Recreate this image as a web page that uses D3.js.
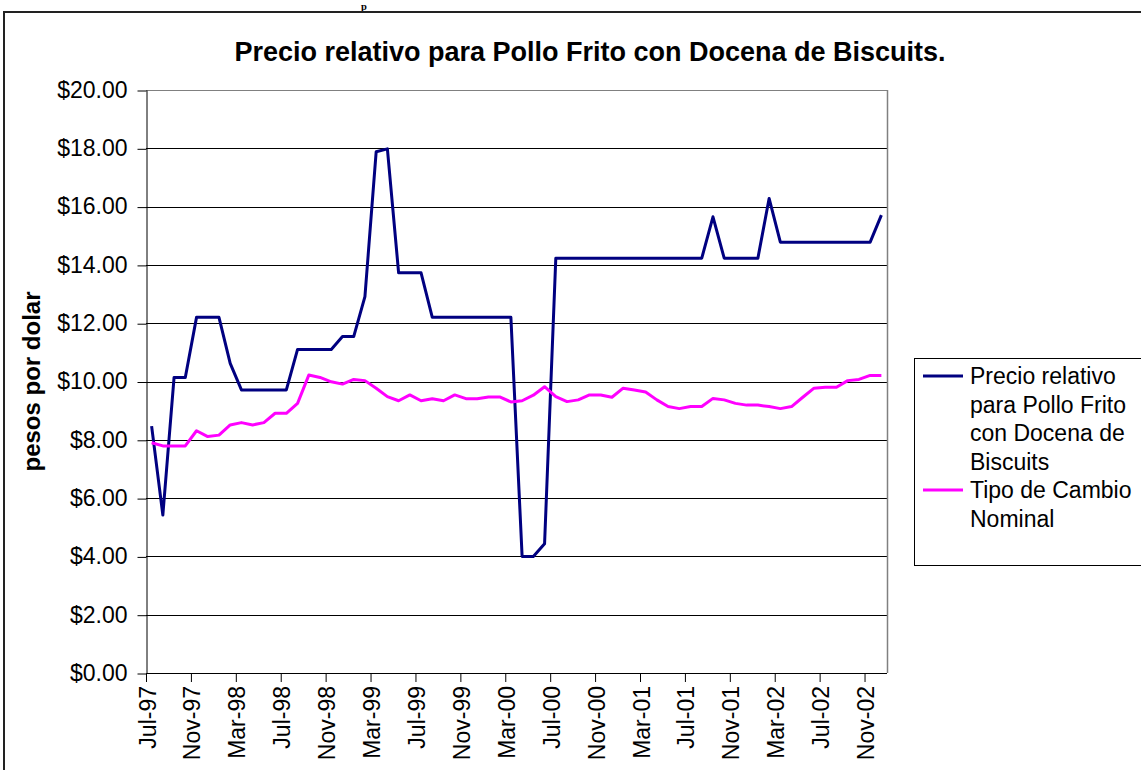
<!DOCTYPE html>
<html>
<head>
<meta charset="utf-8">
<script src="https://cdn.jsdelivr.net/npm/d3@7"></script>
<style>
  body { margin: 0; background: #fff; }
  svg { display: block; font-family: "Liberation Sans", Arial, sans-serif; }
</style>
</head>
<body>
<div id="chart"></div>
<script>
// monthly categories, Jul-97 .. Dec-02
const months = [
  "Jul-97","Aug-97","Sep-97","Oct-97","Nov-97","Dec-97",
  "Jan-98","Feb-98","Mar-98","Apr-98","May-98","Jun-98","Jul-98","Aug-98","Sep-98","Oct-98","Nov-98","Dec-98",
  "Jan-99","Feb-99","Mar-99","Apr-99","May-99","Jun-99","Jul-99","Aug-99","Sep-99","Oct-99","Nov-99","Dec-99",
  "Jan-00","Feb-00","Mar-00","Apr-00","May-00","Jun-00","Jul-00","Aug-00","Sep-00","Oct-00","Nov-00","Dec-00",
  "Jan-01","Feb-01","Mar-01","Apr-01","May-01","Jun-01","Jul-01","Aug-01","Sep-01","Oct-01","Nov-01","Dec-01",
  "Jan-02","Feb-02","Mar-02","Apr-02","May-02","Jun-02","Jul-02","Aug-02","Sep-02","Oct-02","Nov-02","Dec-02"
];
const tickLabels = ["Jul-97","Nov-97","Mar-98","Jul-98","Nov-98","Mar-99","Jul-99","Nov-99","Mar-00",
  "Jul-00","Nov-00","Mar-01","Jul-01","Nov-01","Mar-02","Jul-02","Nov-02"];
const yTicks = [0, 2, 4, 6, 8, 10, 12, 14, 16, 18, 20];

const precioPollo = [
  8.47, 5.42, 10.14, 10.14, 12.2, 12.2, 12.2, 10.62, 9.71, 9.71, 9.71, 9.71, 9.71,
  11.1, 11.1, 11.1, 11.1, 11.54, 11.54, 12.91, 17.88, 17.98, 13.73, 13.73, 13.73,
  12.2, 12.2, 12.2, 12.2, 12.2, 12.2, 12.2, 12.2, 4.0, 4.0, 4.43,
  14.23, 14.23, 14.23, 14.23, 14.23, 14.23, 14.23, 14.23, 14.23, 14.23, 14.23, 14.23, 14.23, 14.23,
  15.65, 14.23, 14.23, 14.23, 14.23, 16.28,
  14.78, 14.78, 14.78, 14.78, 14.78, 14.78, 14.78, 14.78, 14.78, 15.71
];
const tipoCambio = [
  7.90, 7.79, 7.79, 7.79, 8.31, 8.11, 8.16, 8.51, 8.59, 8.51, 8.59, 8.91, 8.91,
  9.25, 10.22, 10.14, 9.99, 9.91, 10.07, 10.03, 9.77, 9.48, 9.34, 9.54, 9.34,
  9.41, 9.34, 9.54, 9.41, 9.41, 9.47, 9.47, 9.30, 9.34, 9.53, 9.82,
  9.48, 9.31, 9.37, 9.54, 9.54, 9.46, 9.77, 9.71, 9.64, 9.37, 9.14, 9.07, 9.14, 9.14,
  9.42, 9.37, 9.25, 9.19, 9.19, 9.14,
  9.07, 9.14, 9.46, 9.77, 9.80, 9.80, 10.03, 10.07, 10.21, 10.21
];

const seriesNames = [
  ["Precio relativo", "para Pollo Frito", "con Docena de", "Biscuits"],
  ["Tipo de Cambio", "Nominal"]
];
const seriesColors = ["#000080", "#ff00ff"];

const width = 1141, height = 770;
const plot = {left: 146, right: 887, top: 90, bottom: 673};

const svg = d3.select("#chart").append("svg")
  .attr("width", width)
  .attr("height", height);

// leftover of the page heading above the chart
svg.append("text")
  .attr("x", 361).attr("y", 9.5)
  .style("font-family", "'Liberation Serif', serif")
  .style("font-weight", "bold")
  .style("font-size", "10.5px")
  .text("p");

// chart area border
svg.append("rect")
  .attr("x", 4).attr("y", 12)
  .attr("width", width + 20).attr("height", height + 20)
  .attr("fill", "none")
  .attr("stroke", "#222")
  .attr("stroke-width", 2);

let x = d3.scaleBand().domain(months).range([plot.left, plot.right]).padding(0);
let y = d3.scaleLinear().domain([0, 20]).range([plot.bottom, plot.top]);
let half = x.bandwidth() / 2;

// gridlines
svg.append("g")
  .selectAll("line")
  .data(yTicks.filter(d => d > 0))
  .enter().append("line")
  .attr("x1", plot.left).attr("x2", plot.right)
  .attr("y1", d => Math.round(y(d)) + 0.5)
  .attr("y2", d => Math.round(y(d)) + 0.5)
  .attr("stroke", d => d === 20 ? "#808080" : "#000")
  .attr("stroke-width", 1);

// plot area border (right side)
svg.append("line")
  .attr("x1", plot.right + 0.5).attr("x2", plot.right + 0.5)
  .attr("y1", plot.top).attr("y2", plot.bottom)
  .attr("stroke", "#808080").attr("stroke-width", 1.5);

// y axis
let yAxis = svg.append("g")
  .attr("transform", "translate(" + (plot.left + 0.5) + ",0)")
  .call(d3.axisLeft(y).tickValues(yTicks).tickFormat(d3.format("$.2f")).tickSize(9).tickPadding(10).tickSizeOuter(0));
yAxis.select(".domain").attr("stroke", "#000");
yAxis.selectAll(".tick line").attr("stroke", "#000").attr("transform", "translate(0,0.5)");
yAxis.selectAll("text")
  .style("font-size", "23px")
  .attr("fill", "#000")
  .attr("font-family", null);

// x axis: ticks at category boundaries, labels rotated
let xAxis = svg.append("g")
  .attr("transform", "translate(" + (-half + 0.5) + "," + plot.bottom + ")")
  .call(d3.axisBottom(x).tickValues(tickLabels).tickSize(9).tickSizeOuter(0));
xAxis.select(".domain").remove();
xAxis.selectAll(".tick line").attr("stroke", "#000");
xAxis.selectAll("text")
  .style("font-size", "23px")
  .attr("fill", "#000")
  .attr("font-family", null)
  .attr("text-anchor", "end")
  .attr("transform", "rotate(-90)")
  .attr("x", -13)
  .attr("y", 1)
  .attr("dy", "0.35em");

svg.append("line")
  .attr("x1", plot.left).attr("x2", plot.right)
  .attr("y1", plot.bottom + 0.5).attr("y2", plot.bottom + 0.5)
  .attr("stroke", "#000");

// lines
let line = d3.line()
  .x((d, i) => x(months[i]) + half)
  .y(d => y(d));

[precioPollo, tipoCambio].forEach(function(values, k){
  svg.append("path")
    .datum(values)
    .attr("fill", "none")
    .attr("stroke", seriesColors[k])
    .attr("stroke-width", 3)
    .attr("stroke-linejoin", "round")
    .attr("d", line);
});

// title
svg.append("text")
  .attr("x", 590).attr("y", 61)
  .attr("text-anchor", "middle")
  .style("font-size", "27px")
  .style("font-weight", "bold")
  .text("Precio relativo para Pollo Frito con Docena de Biscuits.");

// y axis title
svg.append("text")
  .attr("transform", "translate(40," + ((plot.top + plot.bottom) / 2) + ") rotate(-90)")
  .attr("text-anchor", "middle")
  .style("font-size", "24px")
  .style("font-weight", "bold")
  .text("pesos por dolar");

// legend
let legend = svg.append("g");
legend.append("rect")
  .attr("x", 914.5).attr("y", 358.5)
  .attr("width", 260).attr("height", 207)
  .attr("fill", "#fff")
  .attr("stroke", "#000");

let lineHeight = 28.5, firstBaseline = 384, row = 0;
seriesNames.forEach(function(lines, k){
  legend.append("line")
    .attr("x1", 923).attr("x2", 963)
    .attr("y1", firstBaseline + row * lineHeight - 8)
    .attr("y2", firstBaseline + row * lineHeight - 8)
    .attr("stroke", seriesColors[k])
    .attr("stroke-width", 3);
  lines.forEach(function(t){
    legend.append("text")
      .attr("x", 970)
      .attr("y", firstBaseline + row * lineHeight)
      .style("font-size", "23px")
      .text(t);
    row++;
  });
});
</script>
</body>
</html>
